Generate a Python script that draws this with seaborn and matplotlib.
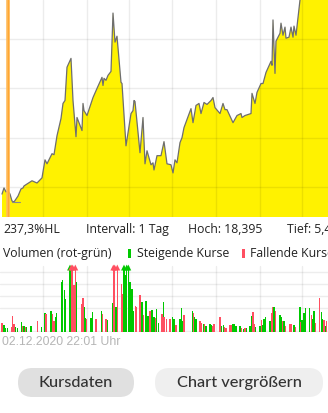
import numpy as np
import matplotlib
matplotlib.use("Agg")
import matplotlib.pyplot as plt
from matplotlib.patches import FancyBboxPatch
import seaborn as sns
import pandas as pd

# ---------------- data ----------------
price_day = [2, 4, 6, 8, 10, 12, 14, 16, 18, 21, 23, 24, 27, 32, 37, 42, 45, 47, 52, 54,
             57, 61, 63, 65, 67, 71, 73, 76, 77, 82, 83, 84, 87, 93, 97, 102, 103, 104, 106, 108,
             111, 113, 115, 117, 121, 122, 126, 131, 133, 134, 135, 140, 143, 145, 147, 151, 153, 154, 157, 161,
             164, 167, 171, 173, 175, 177, 180, 182, 184, 191, 193, 196, 199, 201, 204, 207, 211, 213, 215, 220,
             223, 225, 227, 233, 237, 241, 242, 245, 251, 252, 255, 257, 261, 263, 266, 271, 272, 273, 275, 276,
             280, 281, 283, 285, 286, 289, 291, 293, 294, 296, 300, 303, 306, 310, 314, 318, 322, 326, 330]
price = [5.71, 5.96, 5.80, 5.84, 5.71, 5.43, 5.39, 5.51, 5.63, 5.92, 5.96, 6.04, 6.12, 6.25, 6.16, 6.37, 7.10, 6.94, 7.35, 7.31,
         8.08, 8.78, 9.39, 9.51, 10.86, 11.22, 9.51, 8.04, 8.82, 8.29, 9.39, 9.10, 8.90, 9.63, 10.00, 10.45, 10.12, 10.41, 10.33, 10.53,
         10.69, 13.06, 11.88, 12.12, 10.25, 10.20, 7.67, 8.98, 9.10, 9.51, 9.47, 7.39, 8.82, 6.94, 7.47, 6.90, 6.98, 6.69, 7.27, 7.27,
         7.84, 6.94, 6.90, 6.57, 7.10, 6.98, 7.80, 8.00, 8.41, 9.18, 8.61, 9.31, 9.39, 8.98, 9.43, 9.35, 9.51, 9.63, 9.22, 8.98,
         9.39, 9.14, 9.14, 8.61, 8.90, 8.98, 8.82, 8.90, 8.98, 9.80, 9.39, 9.84, 10.20, 10.20, 10.65, 11.10, 10.94, 12.78, 10.61, 11.92,
         12.24, 12.65, 12.16, 12.49, 12.04, 12.08, 12.49, 12.08, 12.53, 12.16, 13.59, 14.20, 14.60, 15.20, 15.00, 15.80, 16.40, 17.20, 17.60]

vol_day = [2.0, 4.0, 5.3, 7.3, 11.3, 12.3, 14.0, 15.3, 17.3, 21.3, 22.7, 24.0, 25.3, 26.7, 31.0, 37.3, 41.3, 45.0, 46.0, 51.0,
           52.3, 54.0, 55.3, 56.3, 61.3, 62.3, 64.3, 65.7, 70.0, 71.3, 72.7, 74.0, 75.3, 76.7, 81.7, 83.0, 84.3, 85.3, 86.7, 91.0,
           92.3, 96.0, 101.3, 102.3, 106.0, 107.3, 112.3, 113.3, 114.7, 116.0, 117.3, 121.3, 122.7, 124.0, 125.3, 126.7, 128.3, 130.0, 132.0, 133.3,
           135.3, 136.3, 140.0, 142.0, 143.3, 145.3, 146.7, 148.0, 150.0, 152.0, 154.0, 155.3, 156.7, 158.7, 162.0, 163.3,
           164.0, 166.7, 170.0, 172.3, 174.0, 176.0, 180.0, 181.7, 182.7, 184.0, 192.3, 193.3, 194.7, 196.0, 200.0, 201.3, 203.3, 204.3, 206.0, 210.0,
           211.3, 212.7, 214.0, 220.0, 221.3, 223.3, 224.7, 226.0, 230.0, 231.3, 233.0, 234.0, 236.0, 240.0, 241.3, 243.3, 245.0, 246.7, 250.0, 251.3,
           253.0, 254.0, 255.3, 260.0, 261.3, 263.0, 264.0, 265.3, 270.0, 271.3, 272.7, 274.0, 275.3, 280.0, 281.3, 282.3, 284.0, 285.3, 290.0, 291.3,
           294.0, 295.3, 300.0, 301.0, 302.0, 304.0, 305.3, 309.7, 311.3, 312.3, 314.0, 315.3, 319.3, 321.3, 322.7, 324.0, 325.3, 326.7]
volume = [38, 30, 18, 18, 21, 68, 32, 21, 18, 42, 25, 25, 21, 21, 24, 46, 21, 77, 75, 86,
          75, 46, 63, 77, 208, 218, 176, 138, 300, 300, 300, 194, 300, 207, 117, 142, 103, 58, 54, 58,
          82, 54, 89, 75, 54, 49, 120, 300, 300, 103, 300, 199, 159, 300, 237, 300, 300, 208, 180, 89,
          110, 103, 152, 124, 72, 128, 128, 68, 89, 92, 61, 58, 96, 39, 75, 124,
          61, 54, 54, 63, 54, 28, 54, 99, 46, 72, 86, 77, 61, 56, 44, 38, 32, 35, 23, 35,
          30, 25, 35, 63, 27, 31, 21, 18, 31, 31, 32, 35, 23, 23, 18, 14, 15, 18, 23, 65,
          82, 35, 21, 23, 51, 30, 56, 63, 46, 77, 103, 103, 86, 72, 61, 46, 46, 25, 35, 35,
          30, 21, 106, 42, 51, 77, 99, 99, 72, 56, 86, 39, 141, 82, 56, 51, 25, 46]
# g = steigend, r = fallend
vol_dir = ["r", "g", "g", "g", "r", "r", "r", "g", "g", "g", "r", "g", "r", "g", "g", "r", "g", "g", "r", "g",
           "r", "r", "g", "g", "g", "g", "g", "g", "g", "r", "r", "r", "r", "g", "r", "r", "g", "g", "r", "g",
           "g", "r", "g", "r", "r", "g", "g", "r", "r", "g", "r", "r", "r", "g", "g", "g", "g", "g", "g", "g",
           "r", "r", "r", "g", "r", "g", "g", "g", "r", "g", "g", "r", "g", "g", "r", "g",
           "r", "r", "r", "g", "g", "r", "g", "g", "g", "r", "g", "r", "g", "g", "r", "r", "g", "r", "g", "g",
           "g", "r", "r", "r", "g", "g", "r", "r", "r", "r", "g", "g", "g", "g", "r", "g", "r", "g", "g", "g",
           "r", "r", "g", "g", "r", "g", "g", "g", "g", "r", "r", "g", "r", "g", "g", "r", "g", "r", "r", "r",
           "g", "r", "g", "r", "g", "g", "g", "g", "r", "g", "g", "r", "r", "g", "g", "r", "g", "r"]

price_grid = [6, 8, 10, 12]
vol_grid = [100, 150, 200, 250]
day_grid = [43, 87, 129, 172, 216, 260, 302]
marker_day = 8
low_day = 14

info_texts = ["237,3%HL", "Intervall: 1 Tag", "Hoch: 18,395", "Tief: 5,4"]
legend_title = "Volumen (rot-grün)"
legend_up = "Steigende Kurse"
legend_down = "Fallende Kurse"
date_text = "02.12.2020 22:01 Uhr"
buttons = ["Kursdaten", "Chart vergrößern"]

# ---------------- style ----------------
sns.set_theme(style="white")
plt.rcParams["font.family"] = ["Open Sans", "DejaVu Sans"]

W, H = 328, 413
fig = plt.figure(figsize=(W / 100, H / 100), dpi=100)
fig.patch.set_facecolor("white")

def px_axes(x0, y0, x1, y1):
    return fig.add_axes([x0 / W, 1 - y1 / H, (x1 - x0) / W, (y1 - y0) / H])

YELLOW = "#fff200"
LINE = "#6e6e6e"
GRID = (0, 0, 0, 0.075)
GREEN = "#00c800"
RED = "#ff4f61"
XMIN, XMAX = 0, 328

# ---------------- price chart ----------------
ax = px_axes(0, 0, 328, 217)
df = pd.DataFrame({"day": price_day, "price": price})
ax.fill_between(df["day"], df["price"], 0, color=YELLOW, lw=0, zorder=1)
sns.lineplot(data=df, x="day", y="price", ax=ax, color=LINE, lw=0.9, zorder=3)
ax.set_xlim(XMIN, XMAX)
ax.set_ylim(4.78, 13.59)
for g in price_grid:
    ax.axhline(g, color=GRID, lw=1, zorder=2)
for d in day_grid:
    ax.axvline(d, color=GRID, lw=1, zorder=2)
ax.axvline(marker_day, color="#ffbb5c", lw=2.6, zorder=4)
ax.axvline(marker_day, color="#ffa733", lw=1.0, zorder=4)
low_val = min(price)
ax.plot([low_day - 2, low_day + 6], [low_val, low_val], color="#8a8a8a", lw=0.8, zorder=4)
ax.set_axis_off()

# ---------------- volume chart ----------------
axv = px_axes(0, 262, 328, 332)
VCAP = 258
vols = np.array(volume, dtype=float)
shown = np.minimum(vols, VCAP)
cols = [GREEN if d == "g" else RED for d in vol_dir]
for d in day_grid:
    axv.axvline(d, ymax=0.95, color=(0, 0, 0, 0.07), lw=1, zorder=0)
for g in vol_grid:
    axv.axhline(g, color=(0, 0, 0, 0.07), lw=1, zorder=0)
axv.axhline(0, color="#ececec", lw=2.5, zorder=0)
axv.bar(vol_day, shown, width=1.1, color=cols, lw=0, zorder=2)
clip = vols > VCAP
vdf = pd.DataFrame({"day": np.array(vol_day)[clip], "v": np.full(clip.sum(), 268.0),
                    "dir": np.array(vol_dir)[clip]})
sns.scatterplot(data=vdf, x="day", y="v", hue="dir", palette={"g": GREEN, "r": RED},
                marker="^", s=18, linewidth=0, ax=axv, legend=False, zorder=3)
axv.set_xlim(XMIN, XMAX)
axv.set_ylim(0, 291)
axv.set_axis_off()

# ---------------- overlay (texts, buttons) ----------------
ov = fig.add_axes([0, 0, 1, 1], facecolor="none")
ov.set_xlim(0, W)
ov.set_ylim(H, 0)
ov.set_axis_off()

TXT = "#222222"
fs = 8.8
ov.text(3, 229.5, info_texts[0], fontsize=fs, color=TXT, va="center", ha="left")
ov.text(86, 229.5, info_texts[1], fontsize=fs, color=TXT, va="center", ha="left")
ov.text(188, 229.5, info_texts[2], fontsize=fs, color=TXT, va="center", ha="left")
ov.text(287, 229.5, info_texts[3], fontsize=fs, color=TXT, va="center", ha="left")

ov.text(3, 253.5, legend_title, fontsize=fs, color=TXT, va="center", ha="left")
ov.add_patch(plt.Rectangle((128, 249), 2.5, 9, color=GREEN, lw=0))
ov.text(137, 253.5, legend_up, fontsize=fs, color=TXT, va="center", ha="left")
ov.add_patch(plt.Rectangle((242, 249), 2.5, 9, color=RED, lw=0))
ov.text(250, 253.5, legend_down, fontsize=fs, color=TXT, va="center", ha="left")

ov.text(2, 342, date_text, fontsize=8.8, color="#b5b5b5", va="center", ha="left",
        family=["Liberation Sans", "DejaVu Sans"])

btn_specs = [(18, 134, "#e0e0e0"), (155, 323, "#efefef")]
for (x0, x1, c), label in zip(btn_specs, buttons):
    p = FancyBboxPatch((x0, 368), x1 - x0, 29, boxstyle="round,pad=0,rounding_size=14.5",
                       fc=c, ec="none")
    ov.add_patch(p)
    ov.text((x0 + x1) / 2, 383, label, fontsize=11.8, color="#333333", ha="center", va="center",
            family=["Lato", "DejaVu Sans"], weight="medium")

fig.savefig("out.png", dpi=100)
